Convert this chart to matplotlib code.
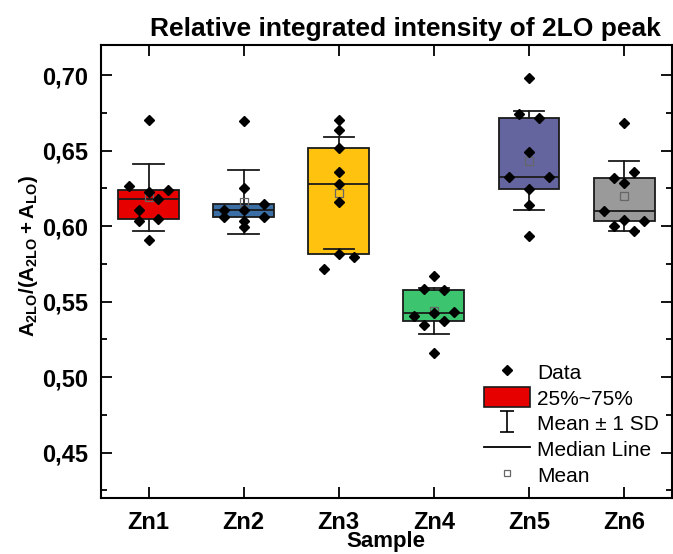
import numpy as np
import matplotlib
matplotlib.use("Agg")
import matplotlib.pyplot as plt
from matplotlib.patches import Patch
from matplotlib.lines import Line2D
from matplotlib.ticker import MultipleLocator, FuncFormatter

plt.rcParams['font.family'] = ['Liberation Sans', 'DejaVu Sans']
plt.rcParams['mathtext.fontset'] = 'custom'
plt.rcParams['mathtext.rm'] = 'Liberation Sans:bold'
plt.rcParams['mathtext.bf'] = 'Liberation Sans:bold'
plt.rcParams['mathtext.it'] = 'Liberation Sans:bold'

# ---- data ----
samples = ["Zn1", "Zn2", "Zn3", "Zn4", "Zn5", "Zn6"]
zn1 = [0.6268, 0.6229, 0.6180, 0.6242, 0.6105, 0.6037, 0.6046, 0.6700, 0.5909]
zn2 = [0.6694, 0.6251, 0.6145, 0.6105, 0.6105, 0.6061, 0.6061, 0.6037, 0.5993]
zn3 = [0.6703, 0.6634, 0.6520, 0.6357, 0.6277, 0.6158, 0.5817, 0.5795, 0.5718]
zn4 = [0.5669, 0.5581, 0.5574, 0.5407, 0.5427, 0.5433, 0.5343, 0.5372, 0.5160]
zn5 = [0.6980, 0.6740, 0.6718, 0.6489, 0.6326, 0.6328, 0.6245, 0.6140, 0.5938]
zn6 = [0.6683, 0.6359, 0.6319, 0.6284, 0.6097, 0.6042, 0.6037, 0.5998, 0.5967]
# horizontal jitter slot of each point (in steps)
jit1 = [-2, 0, 1, 2, -1, -1, 1, 0, 0]
jit2 = [0, 0, 2, -2, 0, -2, 2, 0, 0]
jit3 = [0, 0, 0, 0, 0, 0, 0, 1.5, -1.5]
jit4 = [0, -1, 1, -2, 0, 2, -1, 1, 0]
jit5 = [0, -1, 1, 0, -2, 2, 0, 0, 0]
jit6 = [0, 1, -1, 0, -2, 0, 2, -1, 1]
yticks = [0.45, 0.50, 0.55, 0.60, 0.65, 0.70]

data = [zn1, zn2, zn3, zn4, zn5, zn6]
jits = [jit1, jit2, jit3, jit4, jit5, jit6]
colors = ["#E60000", "#3A6EA5", "#FFC20E", "#3CC46E", "#64649E", "#9A9A9A"]

fig = plt.figure(figsize=(6.73, 5.54), dpi=100)
ax = fig.add_axes([0.150, 0.101, 0.848, 0.818])

positions = np.arange(1, len(samples) + 1)
stats = []
for d in data:
    a = np.asarray(d)
    m = a.mean()
    s = a.std(ddof=1)
    q1, med, q3 = np.percentile(a, [25, 50, 75])
    stats.append(dict(med=med, q1=q1, q3=q3, whislo=m - s, whishi=m + s,
                      mean=m, fliers=[]))

bp = ax.bxp(stats, positions=positions, widths=0.64, capwidths=0.32,
            patch_artist=True, showmeans=True, showfliers=False,
            boxprops=dict(linewidth=1.3, edgecolor='#1a1a1a'),
            medianprops=dict(color='#1a1a1a', linewidth=1.3),
            whiskerprops=dict(color='#1a1a1a', linewidth=1.3),
            capprops=dict(color='#1a1a1a', linewidth=1.3),
            meanprops=dict(marker='s', markerfacecolor='none',
                           markeredgecolor='#666666', markersize=5.5,
                           markeredgewidth=0.9))
for patch, c in zip(bp['boxes'], colors):
    patch.set_facecolor(c)

step = 0.105
for p, d, j in zip(positions, data, jits):
    ax.plot(p + step * np.asarray(j), d, linestyle='none', marker='D',
            color='black', markersize=5, zorder=5)

ax.set_xlim(0.5, 6.5)
ax.set_ylim(0.42, 0.72)
ax.set_xticks(positions)
ax.set_xticklabels(samples, fontsize=17, fontweight='bold')
ax.set_yticks(yticks)
ax.yaxis.set_minor_locator(MultipleLocator(0.025))
ax.yaxis.set_major_formatter(FuncFormatter(lambda v, _: f"{v:.2f}".replace('.', ',')))
for lab in ax.get_yticklabels():
    lab.set_fontweight('bold')
ax.tick_params(axis='y', labelsize=17)
ax.tick_params(which='both', direction='in', top=True, right=True, width=1.3)
ax.tick_params(which='major', length=8)
ax.tick_params(axis='y', which='major', pad=9)
ax.tick_params(axis='x', which='major', pad=9)
ax.tick_params(which='minor', length=4)
ax.tick_params(axis='x', which='minor', top=False, bottom=False)
for sp in ax.spines.values():
    sp.set_linewidth(1.5)

ax.set_ylabel(r'$\mathbf{A_{2LO}/(A_{2LO}+A_{LO})}$', fontsize=14.8)
ax.yaxis.set_label_coords(-0.107, 0.535)
ax.set_xlabel('Sample', fontsize=16, fontweight='bold', labelpad=-2)

fig.text(0.603, 0.948, 'Relative integrated intensity of 2LO peak',
         ha='center', va='center', fontsize=19, fontweight='bold')

eb = ax.errorbar([np.nan], [np.nan], yerr=[1], fmt='none', ecolor='black',
                 capsize=5, elinewidth=1.2, capthick=1.2)
handles = [
    Line2D([], [], linestyle='none', marker='D', color='black', markersize=5),
    Patch(facecolor=colors[0], edgecolor='#1a1a1a', linewidth=1.2),
    eb,
    Line2D([], [], color='black', linewidth=1.3),
    Line2D([], [], linestyle='none', marker='s', markerfacecolor='none',
           markeredgecolor='#666666', markersize=5, markeredgewidth=0.9),
]
labels = ['Data', '25%~75%', 'Mean \u00b1 1 SD', 'Median Line', 'Mean']
ax.legend(handles, labels, loc='lower right', bbox_to_anchor=(1.0, 0.0),
          frameon=False, fontsize=15, handlelength=2.2, handleheight=1.1,
          labelspacing=0.22, handletextpad=0.35, borderaxespad=0.2)

fig.savefig('out.png', dpi=100)
